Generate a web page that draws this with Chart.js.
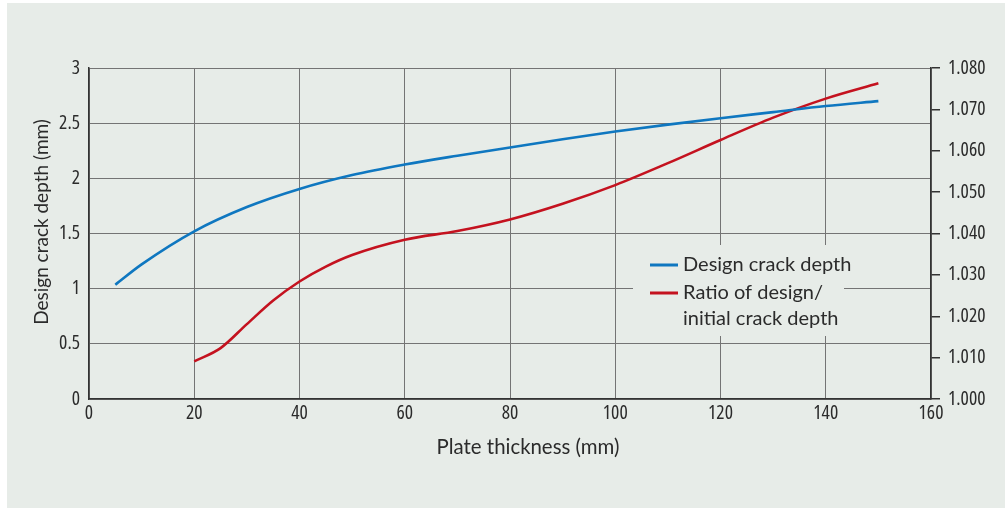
<!DOCTYPE html>
<html>
<head>
<meta charset="utf-8">
<script src="https://cdn.jsdelivr.net/npm/chart.js@4"></script>
<style>
html, body { margin: 0; padding: 0; background: #fff; }
</style>
</head>
<body>
<canvas id="crackChart" width="1005" height="508"></canvas>
<script>
// Design crack depth vs plate thickness
const thickness = [5, 10, 20, 30, 40, 50, 60, 70, 80, 90, 100, 110, 120, 130, 140, 150];
const crackDepth = [1.036, 1.22, 1.52, 1.74, 1.904, 2.03, 2.125, 2.205, 2.28, 2.355, 2.425, 2.487, 2.545, 2.60, 2.655, 2.70];

const ratioThickness = [20, 25, 30, 35, 40, 45, 50, 60, 70, 80, 90, 100, 110, 120, 130, 140, 150];
const depthRatio = [1.0091, 1.0123, 1.0181, 1.0238, 1.0284, 1.032, 1.0348, 1.0385, 1.0406, 1.0434, 1.0472, 1.0517, 1.057, 1.0626, 1.068, 1.0726, 1.0763];

const xTicks = [0, 20, 40, 60, 80, 100, 120, 140, 160];
const depthTicks = [0, 0.5, 1, 1.5, 2, 2.5, 3];
const ratioTicks = [1.000, 1.010, 1.020, 1.030, 1.040, 1.050, 1.060, 1.070, 1.080];

const seriesNames = ['Design crack depth', ['Ratio of design/', 'initial crack depth']];
const xTitle = 'Plate thickness (mm)';
const yTitle = 'Design crack depth (mm)';

const c = {
  panel: '#e7ece8',
  blue: '#0f77c0',
  red: '#c4121f',
  grid: '#747474',
  axis: '#333',
  text: '#2b2b2b'
};
// weight slot carries the font-stretch keyword into ctx.font
const tickFont = { family: '"Open Sans", sans-serif', size: 19.5, weight: 'condensed' };
const titleFamily = 'Lato, "Liberation Sans", sans-serif';

const toTicks = arr => scale => { scale.ticks = arr.map(v => ({ value: v })); };

const panelBg = {
  id: 'panelBg',
  beforeDraw(chart) {
    const ctx = chart.ctx;
    ctx.save();
    ctx.fillStyle = '#fff';
    ctx.fillRect(0, 0, chart.width, chart.height);
    ctx.fillStyle = c.panel;
    ctx.fillRect(7, 3, chart.width - 7, chart.height - 3);
    ctx.restore();
  }
};

// axis titles sit a bit off-centre in the original, so place them by hand
const axisTitles = {
  id: 'axisTitles',
  afterDraw(chart) {
    const ctx = chart.ctx;
    ctx.save();
    ctx.fillStyle = c.text;
    ctx.textAlign = 'center';
    ctx.textBaseline = 'middle';
    ctx.font = '20.4px ' + titleFamily;
    ctx.fillText(xTitle, 528, 447);
    ctx.translate(42, 222);
    ctx.rotate(-Math.PI / 2);
    ctx.font = '19px ' + titleFamily;
    ctx.fillText(yTitle, 0, 0);
    ctx.restore();
  }
};

// legend box sits over the grid, so draw it by hand
const boxLegend = {
  id: 'boxLegend',
  afterDatasetsDraw(chart) {
    const ctx = chart.ctx;
    const bx = 633, by = 245;
    ctx.save();
    ctx.fillStyle = c.panel;
    ctx.fillRect(bx, by, 211, 91);
    ctx.font = '20px ' + titleFamily;
    ctx.textBaseline = 'middle';
    ctx.fillStyle = c.text;
    let y = by + 20;
    chart.data.datasets.forEach(ds => {
      ctx.strokeStyle = ds.borderColor;
      ctx.lineWidth = 3;
      ctx.beginPath();
      ctx.moveTo(bx + 17, y);
      ctx.lineTo(bx + 45, y);
      ctx.stroke();
      const lines = [].concat(ds.label);
      lines.forEach(t => {
        ctx.fillText(t, bx + 50, y);
        y += 26;
      });
      y += 2;
    });
    ctx.restore();
  }
};

new Chart(document.getElementById('crackChart'), {
  type: 'line',
  data: {
    datasets: [{
      label: seriesNames[0],
      data: thickness.map((x, i) => ({ x, y: crackDepth[i] })),
      borderColor: c.blue,
      borderWidth: 2.6,
      pointRadius: 0,
      cubicInterpolationMode: 'monotone',
      yAxisID: 'y'
    }, {
      label: seriesNames[1],
      data: ratioThickness.map((x, i) => ({ x, y: depthRatio[i] })),
      borderColor: c.red,
      borderWidth: 2.6,
      pointRadius: 0,
      cubicInterpolationMode: 'monotone',
      yAxisID: 'y2'
    }]
  },
  options: {
    responsive: false,
    animation: false,
    layout: { padding: { top: 68, left: 0, right: 0, bottom: 0 } },
    plugins: { legend: { display: false }, tooltip: { enabled: false } },
    scales: {
      x: {
        type: 'linear',
        min: 0, max: 160,
        afterBuildTicks: toTicks(xTicks),
        afterFit: s => { s.height = 109; },
        grid: { color: c.grid, lineWidth: 1, drawTicks: false },
        border: { color: c.axis, width: 1.5 },
        ticks: { color: c.text, font: tickFont, padding: 3, maxRotation: 0 }
      },
      y: {
        position: 'left',
        min: 0, max: 3,
        afterBuildTicks: toTicks(depthTicks),
        afterFit: s => { s.width = 89; },
        grid: { color: c.grid, lineWidth: 1, drawTicks: false },
        border: { color: c.axis, width: 1.5 },
        ticks: { color: c.text, font: tickFont, padding: 9, callback: v => String(v) }
      },
      y2: {
        position: 'right',
        min: 1.0, max: 1.08,
        afterBuildTicks: toTicks(ratioTicks),
        afterFit: s => { s.width = 74; },
        grid: { drawOnChartArea: false, drawTicks: true, tickLength: 9, color: c.axis, lineWidth: 1.5 },
        border: { color: c.axis, width: 1.5 },
        ticks: { color: c.text, font: tickFont, padding: 8, callback: v => v.toFixed(3) }
      }
    }
  },
  plugins: [panelBg, axisTitles, boxLegend]
});
</script>
</body>
</html>
